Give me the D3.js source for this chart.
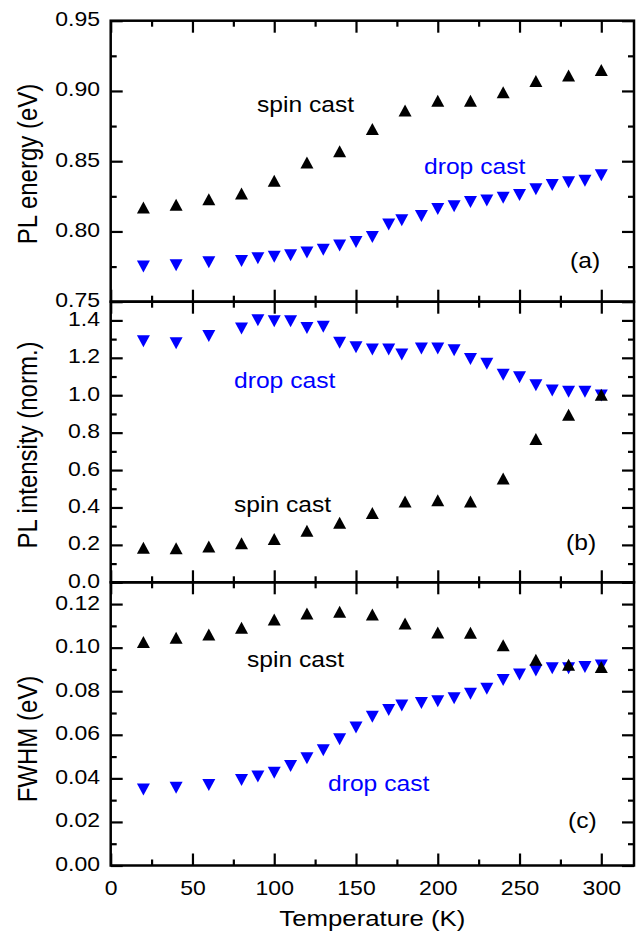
<!DOCTYPE html>
<html>
<head>
<meta charset="utf-8">
<script src="https://cdn.jsdelivr.net/npm/d3@7"></script>
<style>
  body { margin: 0; background: #fff; }
  svg text { font-family: "Liberation Sans", Arial, sans-serif; fill: #000; }
</style>
</head>
<body>
<svg id="chart" width="639" height="931"></svg>
<script>
// temperatures (K)
const temp_spin = [20, 40, 60, 80, 100, 120, 140, 160, 180, 200, 220, 240, 260, 280, 300];
const temp_drop = [20, 40, 60, 80, 90, 100, 110, 120, 130, 140, 150, 160, 170, 178, 190, 200, 210, 220, 230, 240, 250, 260, 270, 280, 290, 300];

// (a) PL energy (eV)
const energy_spin = [0.817, 0.819, 0.823, 0.827, 0.836, 0.849, 0.857, 0.873, 0.886, 0.893, 0.893, 0.899, 0.907, 0.911, 0.915];
const energy_drop = [0.775, 0.776, 0.778, 0.779, 0.781, 0.782, 0.783, 0.785, 0.787, 0.790, 0.7925, 0.796, 0.805, 0.808, 0.811, 0.816, 0.818, 0.821, 0.822, 0.824, 0.826, 0.830, 0.833, 0.835, 0.836, 0.840];

// (b) PL intensity (norm.)
const intensity_spin = [0.185, 0.182, 0.191, 0.209, 0.232, 0.275, 0.319, 0.370, 0.432, 0.439, 0.432, 0.555, 0.766, 0.896, 1.003];
const intensity_drop = [1.289, 1.278, 1.316, 1.357, 1.401, 1.396, 1.396, 1.360, 1.366, 1.280, 1.257, 1.244, 1.244, 1.218, 1.250, 1.250, 1.241, 1.194, 1.168, 1.110, 1.096, 1.053, 1.025, 1.018, 1.018, 0.999];

// (c) FWHM (eV)
const fwhm_spin = [0.1026, 0.1045, 0.1060, 0.1091, 0.1129, 0.1157, 0.1165, 0.1152, 0.1111, 0.1069, 0.1068, 0.1011, 0.0945, 0.0922, 0.0911];
const fwhm_drop = [0.0349, 0.0357, 0.0369, 0.0392, 0.0408, 0.0426, 0.0457, 0.0492, 0.0529, 0.0580, 0.0634, 0.0683, 0.0714, 0.0734, 0.0746, 0.0754, 0.0768, 0.0788, 0.0811, 0.0852, 0.0877, 0.0895, 0.0906, 0.0906, 0.0911, 0.0918];

const x_major = [0, 50, 100, 150, 200, 250, 300];
const x_minor = [25, 75, 125, 175, 225, 275];

const energy_major = [0.75, 0.80, 0.85, 0.90, 0.95];
const energy_minor = [0.775, 0.825, 0.875, 0.925];
const intensity_major = [0.0, 0.2, 0.4, 0.6, 0.8, 1.0, 1.2, 1.4];
const intensity_minor = [0.1, 0.3, 0.5, 0.7, 0.9, 1.1, 1.3];
const fwhm_major = [0.00, 0.02, 0.04, 0.06, 0.08, 0.10, 0.12];
const fwhm_minor = [0.01, 0.03, 0.05, 0.07, 0.09, 0.11];

const LEFT = 110.7, RIGHT = 634;
const MAJOR = 12, MINOR = 6;
const STRETCH = 1.12;
const TICK_STRETCH = 1.15;

const svg = d3.select("#chart");

const x = d3.scaleLinear().domain([0, 320]).range([LEFT, RIGHT]);

const panels = [
    {
        top: 20.7, bottom: 301.7, domain: [0.75, 0.95],
        major: energy_major, minor: energy_minor, fmt: d3.format(".2f"),
        title: "PL energy (eV)", title_y: 164,
        spin: energy_spin, drop: energy_drop,
        notes: [
            { text: "spin cast", x: 257, y: 112, color: "#000" },
            { text: "drop cast", x: 424, y: 174, color: "#0000ff" },
            { text: "(a)", x: 570, y: 268, color: "#000" }
        ]
    },
    {
        top: 301.7, bottom: 582.3, domain: [0, 1.5],
        major: intensity_major, minor: intensity_minor, fmt: d3.format(".1f"),
        title: "PL intensity (norm.)", title_y: 445,
        spin: intensity_spin, drop: intensity_drop,
        notes: [
            { text: "drop cast", x: 234, y: 388, color: "#0000ff" },
            { text: "spin cast", x: 234, y: 512, color: "#000" },
            { text: "(b)", x: 566, y: 550, color: "#000" }
        ]
    },
    {
        top: 582.3, bottom: 865.5, domain: [0, 0.13],
        major: fwhm_major, minor: fwhm_minor, fmt: d3.format(".2f"),
        title: "FWHM (eV)", title_y: 739,
        spin: fwhm_spin, drop: fwhm_drop,
        notes: [
            { text: "spin cast", x: 247, y: 667, color: "#000" },
            { text: "drop cast", x: 328, y: 791, color: "#0000ff" },
            { text: "(c)", x: 568, y: 828, color: "#000" }
        ]
    }
];

// triangles centred on their bounding box
const tri_up = "M0,-6L6.5,6L-6.5,6Z";
const tri_down = "M0,6L6.5,-6L-6.5,-6Z";

const style_axis = function (g) {
    g.select(".domain").remove();
    g.selectAll(".tick line").attr("stroke", "#000").attr("stroke-width", 2.2);
}

const draw_panel = function (p, idx) {
    const y = d3.scaleLinear().domain(p.domain).range([p.bottom, p.top]);
    const g = svg.append("g").attr("class", "panel-" + idx);

    // x ticks, top and bottom, pointing inward
    [[d3.axisBottom, p.bottom], [d3.axisTop, p.top]].forEach(([ax, pos]) => {
        g.append("g").attr("transform", `translate(0,${pos})`)
            .call(ax(x).tickValues(x_major).tickSize(-MAJOR).tickSizeOuter(0).tickFormat(""))
            .call(style_axis);
        g.append("g").attr("transform", `translate(0,${pos})`)
            .call(ax(x).tickValues(x_minor).tickSize(-MINOR).tickSizeOuter(0).tickFormat(""))
            .call(style_axis);
    });

    // y ticks, left and right, pointing inward
    [[d3.axisLeft, LEFT], [d3.axisRight, RIGHT]].forEach(([ax, pos]) => {
        g.append("g").attr("transform", `translate(${pos},0)`)
            .call(ax(y).tickValues(p.major).tickSize(-MAJOR).tickSizeOuter(0).tickFormat(""))
            .call(style_axis);
        g.append("g").attr("transform", `translate(${pos},0)`)
            .call(ax(y).tickValues(p.minor).tickSize(-MINOR).tickSizeOuter(0).tickFormat(""))
            .call(style_axis);
    });

    // y tick labels
    const yl = g.append("g").attr("transform", `translate(${LEFT},0)`)
        .call(d3.axisLeft(y).tickValues(p.major).tickSize(0).tickFormat(p.fmt))
        .call(style_axis);
    yl.selectAll(".tick text")
        .attr("x", null).attr("dy", null)
        .attr("font-size", 20).attr("font-family", null)
        .attr("transform", `translate(-10.7,5) scale(${TICK_STRETCH},1)`);

    // frame
    g.append("rect")
        .attr("x", LEFT).attr("y", p.top)
        .attr("width", RIGHT - LEFT).attr("height", p.bottom - p.top)
        .attr("fill", "none").attr("stroke", "#000").attr("stroke-width", 2.5);

    // markers: drop cast first, spin cast drawn over it
    g.append("g").selectAll("path")
        .data(d3.zip(temp_drop, p.drop))
        .join("path")
        .attr("transform", d => `translate(${x(d[0])},${y(d[1])})`)
        .attr("d", tri_down)
        .attr("fill", "#0000ff");

    g.append("g").selectAll("path")
        .data(d3.zip(temp_spin, p.spin))
        .join("path")
        .attr("transform", d => `translate(${x(d[0])},${y(d[1])})`)
        .attr("d", tri_up)
        .attr("fill", "#000");

    // annotations
    p.notes.forEach(n => {
        g.append("text")
            .attr("transform", `translate(${n.x},${n.y}) scale(${STRETCH},1)`)
            .attr("font-size", 22)
            .style("fill", n.color)
            .text(n.text);
    });

    // y title
    g.append("text")
        .attr("transform", `translate(37,${p.title_y}) rotate(-90) scale(1,${STRETCH})`)
        .attr("text-anchor", "middle")
        .attr("font-size", 24)
        .text(p.title);

    return y;
}

panels.forEach(draw_panel);

// x tick labels and title under the last panel
const last = panels[panels.length - 1];
const xl = svg.append("g").attr("transform", `translate(0,${last.bottom})`)
    .call(d3.axisBottom(x).tickValues(x_major).tickSize(0).tickFormat(d3.format("d")))
    .call(style_axis);
xl.selectAll(".tick text")
    .attr("y", null).attr("dy", null)
    .attr("font-size", 20).attr("font-family", null)
    .attr("transform", `translate(0,29.5) scale(${TICK_STRETCH},1)`);

svg.append("text")
    .attr("transform", `translate(${(LEFT + RIGHT) / 2},926) scale(${STRETCH},1)`)
    .attr("text-anchor", "middle")
    .attr("font-size", 23)
    .text("Temperature (K)");
</script>
</body>
</html>
